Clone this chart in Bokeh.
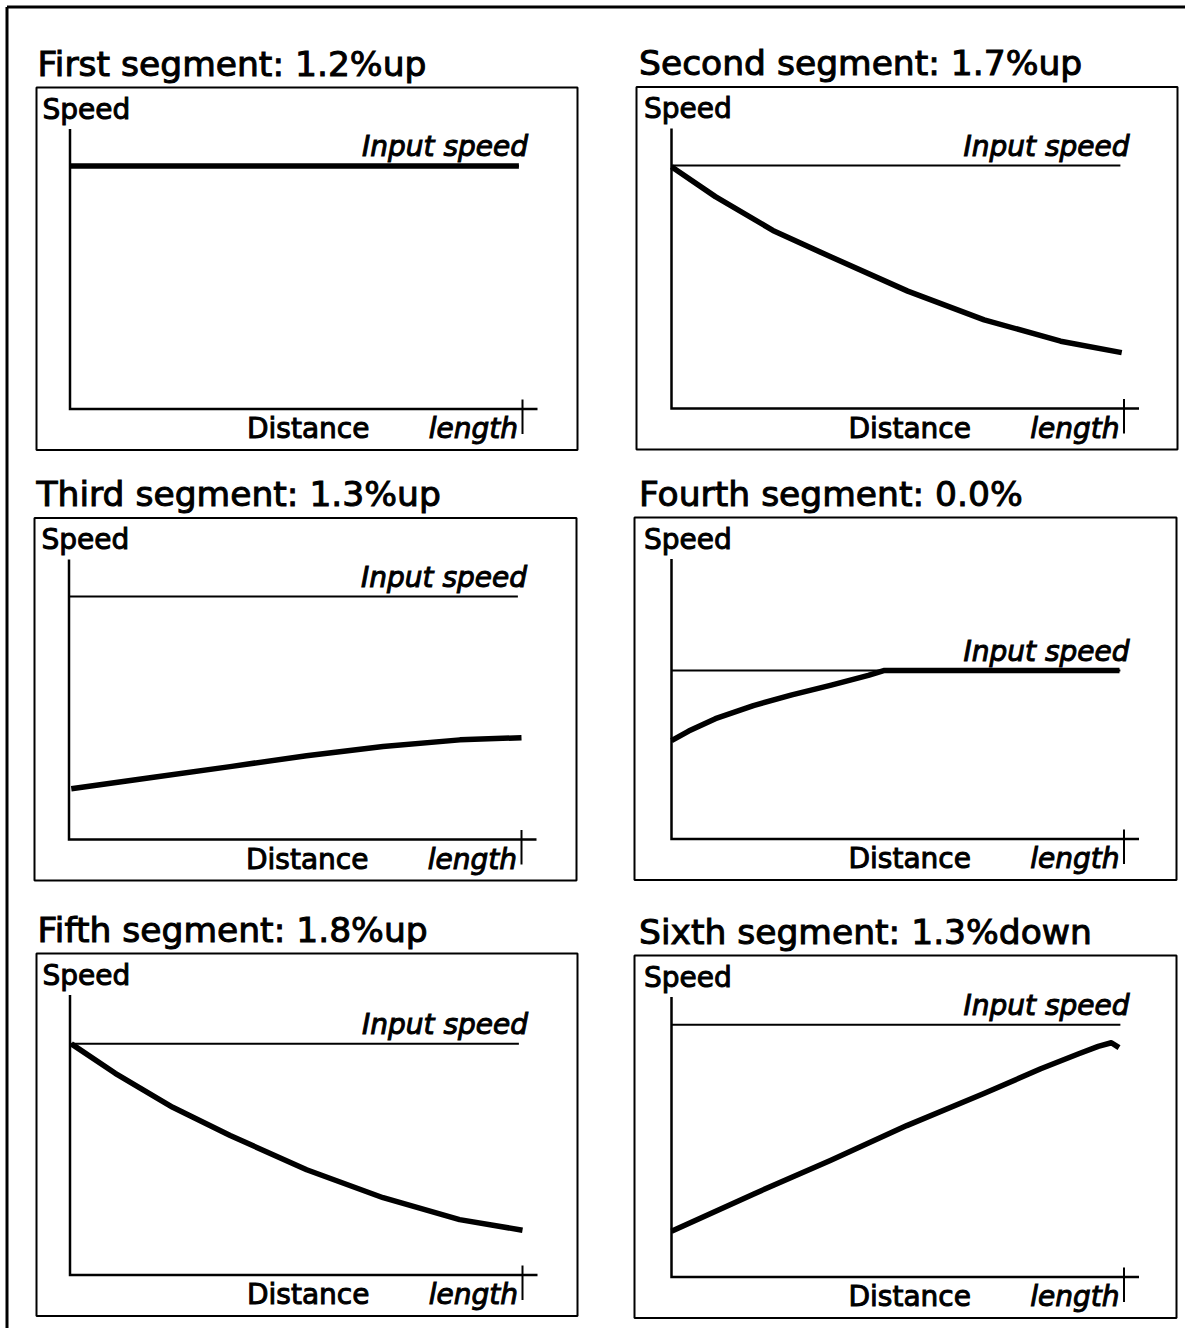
from bokeh.plotting import figure
from bokeh.models import Range1d
from bokeh.core.properties import value
from bokeh.embed import file_html
from bokeh.resources import INLINE

# ---------------- data (relative speed vs. relative distance) ----------------
titles = ["First segment: 1.2%up", "Second segment: 1.7%up", "Third segment: 1.3%up",
          "Fourth segment: 0.0%", "Fifth segment: 1.8%up", "Sixth segment: 1.3%down"]
input_speed = [1.0, 1.0, 1.0, 0.693, 0.952, 1.038]

dist_1 = [0.0, 0.992]
speed_1 = [1.0, 1.0]
dist_2 = [0.0, 0.097, 0.224, 0.353, 0.522, 0.691, 0.860, 0.995]
speed_2 = [0.995, 0.872, 0.733, 0.623, 0.483, 0.365, 0.277, 0.230]
dist_3 = [0.005, 0.187, 0.356, 0.525, 0.694, 0.864, 1.0]
speed_3 = [0.209, 0.256, 0.300, 0.345, 0.383, 0.410, 0.419]
dist_4 = [0.0, 0.038, 0.097, 0.181, 0.266, 0.351, 0.435, 0.469, 0.99]
speed_4 = [0.405, 0.444, 0.495, 0.549, 0.593, 0.632, 0.673, 0.693, 0.693]
dist_5 = [0.003, 0.100, 0.227, 0.354, 0.523, 0.692, 0.861, 1.0]
speed_5 = [0.951, 0.830, 0.690, 0.574, 0.433, 0.318, 0.228, 0.184]
dist_6 = [0.0, 0.182, 0.351, 0.520, 0.689, 0.816, 0.900, 0.943, 0.972, 0.989]
speed_6 = [0.188, 0.342, 0.479, 0.623, 0.754, 0.857, 0.919, 0.949, 0.964, 0.944]

dists = [dist_1, dist_2, dist_3, dist_4, dist_5, dist_6]
speeds = [speed_1, speed_2, speed_3, speed_4, speed_5, speed_6]

y_label = "Speed"
x_label = "Distance"
end_label = "length"
ref_label = "Input speed"

# ---------------- layout (picture pixels) ----------------
W, H = 1185, 1328
origins = [(69.5, 408.5), (671, 408), (68.5, 839), (671, 838.5), (69.5, 1274.5), (671, 1276.5)]
box_lr = [(36, 577), (636, 1177), (34, 576), (634, 1176), (36, 577), (634, 1176)]
SX, SY = 452.5, 243.0   # pixels per unit distance / unit speed

FONT = value("DejaVu Sans")
T_SIZE, L_SIZE = 34.5, 28.0
T_OFF, L_OFF = -0.37 * T_SIZE, -0.37 * L_SIZE   # baseline correction
TXT = dict(text_font=FONT, text_baseline="alphabetic", text_color="black",
           text_outline_color="black")

p = figure(width=W, height=H, output_backend="svg", toolbar_location=None,
           x_axis_type=None, y_axis_type=None,
           x_range=Range1d(0, W), y_range=Range1d(H, 0),
           min_border=0, outline_line_color=None, background_fill_color="white",
           border_fill_color="white")

# outer frame (left and top edges visible)
p.line([6.5, 6.5], [H, 6.5], line_color="black", line_width=3)
p.line([6.5, W], [6.5, 6.5], line_color="black", line_width=3)

for i in range(6):
    ax, ay = origins[i]
    bl, br = box_lr[i]
    xn, yn = f"px{i}", f"py{i}"
    xs = -ax / SX
    ys = -(H - ay) / SY
    p.extra_x_ranges[xn] = Range1d(xs, xs + W / SX)
    p.extra_y_ranges[yn] = Range1d(ys, ys + H / SY)

    # panel box
    p.quad(left=[bl], right=[br], top=[ay - 321.5], bottom=[ay + 41],
           fill_color=None, line_color="black", line_width=2)
    # axes
    p.line([ax, ax, ax + 467.5], [ay - 280, ay, ay], line_color="black",
           line_width=2.5, line_join="miter")
    # end tick at "length"
    p.line([ax + SX, ax + SX], [ay - 9.5, ay + 25], line_color="black", line_width=2)

    # input speed reference line
    inp = input_speed[i]
    p.line([0.0, 0.992], [inp, inp], x_range_name=xn, y_range_name=yn,
           line_color="black", line_width=2)
    # speed curve
    p.line(dists[i], speeds[i], x_range_name=xn, y_range_name=yn,
           line_color="black", line_width=5.5, line_join="round")

    # texts
    p.text(x=[ax - 32.5], y=[ay - 332.5], text=[titles[i]], y_offset=T_OFF,
           text_font_size=f"{T_SIZE}px", text_align="left", **TXT)
    p.text(x=[ax - 27.5], y=[ay - 289.5], text=[y_label], y_offset=L_OFF,
           text_font_size=f"{L_SIZE}px", text_align="left", **TXT)
    p.text(x=[458 / SX], y=[inp], text=[ref_label], x_range_name=xn, y_range_name=yn,
           y_offset=-9 + L_OFF, text_font_size=f"{L_SIZE}px",
           text_font_style="italic", text_align="right", **TXT)
    p.text(x=[ax + 177], y=[ay + 30], text=[x_label], y_offset=L_OFF,
           text_font_size=f"{L_SIZE}px", text_align="left", **TXT)
    p.text(x=[ax + 448], y=[ay + 30], text=[end_label], y_offset=L_OFF,
           text_font_size=f"{L_SIZE}px", text_font_style="italic",
           text_align="right", **TXT)

open("out.html", "w").write(file_html(p, INLINE))
